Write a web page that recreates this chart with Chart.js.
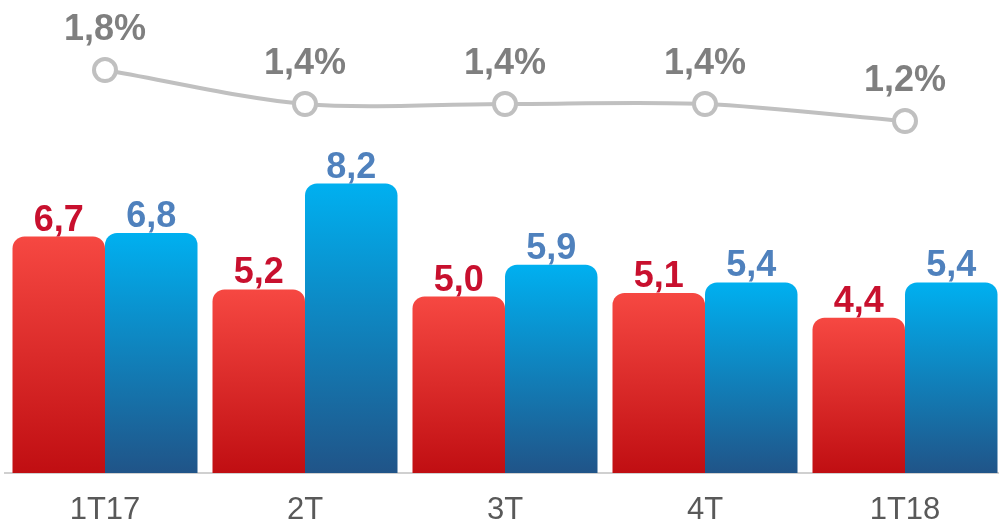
<!DOCTYPE html>
<html>
<head>
<meta charset="utf-8">
<script src="https://cdn.jsdelivr.net/npm/chart.js@4.4.1/dist/chart.umd.min.js"></script>
<style>
  html, body { margin: 0; padding: 0; background: #fff; overflow: hidden; }
  #wrap { width: 1005px; height: 523px; position: relative; }
</style>
</head>
<body>
<div id="wrap"><canvas id="grafica"></canvas></div>
<script>
const trimestres = ['1T17', '2T', '3T', '4T', '1T18'];
const serieRoja = [6.7, 5.2, 5.0, 5.1, 4.4];
const serieAzul = [6.8, 8.2, 5.9, 5.4, 5.4];
const porcentaje = [1.8, 1.4, 1.4, 1.4, 1.2];

const colores = {
    rojoArriba: 'rgb(246, 72, 66)',
    rojoAbajo: 'rgb(192, 14, 18)',
    azulArriba: 'rgb(0, 176, 240)',
    azulAbajo: 'rgb(32, 84, 136)',
    linea: '#c0c0c0',
    etiquetaLinea: '#7f7f7f',
    etiquetaRoja: '#c8102e',
    etiquetaAzul: '#4f81bd',
    ejeX: '#595959'
};

function degradado(arriba, abajo) {
    return function (ctx) {
        const chart = ctx.chart;
        const area = chart.chartArea;
        if (!area || ctx.dataIndex === undefined) return arriba;
        const y = chart.scales.y;
        const top = y.getPixelForValue(ctx.raw);
        const g = chart.ctx.createLinearGradient(0, top, 0, area.bottom);
        g.addColorStop(0, arriba);
        g.addColorStop(1, abajo);
        return g;
    };
}

// etiquetas de valores
const etiquetas = {
    id: 'etiquetas',
    afterDatasetsDraw(chart) {
        const c = chart.ctx;
        c.save();
        c.textAlign = 'center';
        c.textBaseline = 'alphabetic';
        c.font = 'bold 36px "Liberation Sans", Arial, sans-serif';
        chart.data.datasets.forEach((ds, i) => {
            const meta = chart.getDatasetMeta(i);
            meta.data.forEach((el, j) => {
                const v = ds.data[j];
                let txt = v.toFixed(1).replace('.', ',');
                let yPos;
                if (ds.type === 'line') {
                    txt += '%';
                    c.fillStyle = colores.etiquetaLinea;
                    yPos = el.y - 30;
                } else {
                    c.fillStyle = ds.serie === 'roja' ? colores.etiquetaRoja : colores.etiquetaAzul;
                    yPos = el.y - 6;
                }
                c.fillText(txt, el.x, yPos);
            });
        });
        c.restore();
    }
};

new Chart(document.getElementById('grafica'), {
    data: {
        labels: trimestres,
        datasets: [
            {
                type: 'line',
                data: porcentaje,
                yAxisID: 'y2',
                borderColor: colores.linea,
                borderWidth: 4,
                tension: 0.3,
                pointRadius: 11,
                pointBorderWidth: 4,
                pointBackgroundColor: '#ffffff',
                pointBorderColor: colores.linea,
                order: 0
            },
            {
                type: 'bar',
                serie: 'roja',
                data: serieRoja,
                yAxisID: 'y',
                backgroundColor: degradado(colores.rojoArriba, colores.rojoAbajo),
                borderRadius: { topLeft: 12, topRight: 12, bottomLeft: 0, bottomRight: 0 },
                borderSkipped: false,
                categoryPercentage: 0.925,
                barPercentage: 1.0,
                order: 1
            },
            {
                type: 'bar',
                serie: 'azul',
                data: serieAzul,
                yAxisID: 'y',
                backgroundColor: degradado(colores.azulArriba, colores.azulAbajo),
                borderRadius: { topLeft: 12, topRight: 12, bottomLeft: 0, bottomRight: 0 },
                borderSkipped: false,
                categoryPercentage: 0.925,
                barPercentage: 1.0,
                order: 1
            }
        ]
    },
    options: {
        responsive: true,
        maintainAspectRatio: false,
        animation: false,
        layout: { autoPadding: false, padding: { left: 5, right: 0, top: 0, bottom: 0 } },
        plugins: {
            legend: { display: false },
            tooltip: { enabled: false }
        },
        scales: {
            x: {
                grid: { display: false, drawTicks: false },
                border: { display: true, color: '#d0d0d0', width: 2 },
                ticks: {
                    color: colores.ejeX,
                    font: { family: '"Liberation Sans", Arial, sans-serif', size: 31 },
                    padding: 19
                },
                afterFit(scale) { scale.height = 50; }
            },
            y: {
                display: false,
                min: 0,
                max: 13.4
            },
            y2: {
                display: false,
                min: -2.94,
                max: 2.624
            }
        }
    },
    plugins: [etiquetas]
});
</script>
</body>
</html>
